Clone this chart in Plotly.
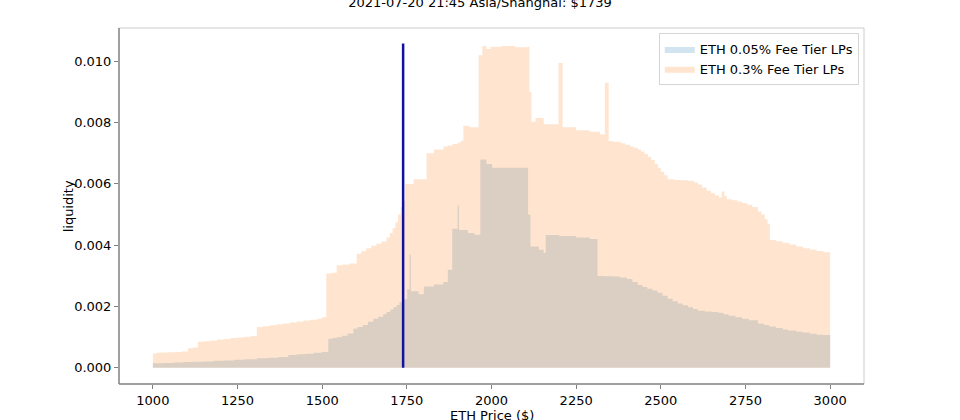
import plotly.graph_objects as go

title_text = "2021-07-20 21:45 Asia/Shanghai: $1739"
current_price = 1739
line_top = 0.01058

# 0.3% fee tier: (price breakpoint, liquidity) step values
prices_03 = [1000, 1012, 1025, 1045, 1065, 1085, 1104, 1118, 1133, 1150, 1170, 1190, 1210, 1230,
             1250, 1270, 1290, 1307, 1325, 1345, 1365, 1385, 1405, 1425, 1445, 1465, 1485, 1499,
             1512, 1528, 1543, 1560, 1580, 1602, 1615, 1630, 1645, 1660, 1675, 1690, 1700, 1708,
             1716, 1724, 1732, 1739, 1745, 1770, 1808, 1830, 1858, 1870, 1885, 1900, 1910, 1917,
             1935, 1962, 1973, 1985, 1997, 2030, 2070, 2106, 2112, 2118, 2130, 2154, 2198, 2210,
             2250, 2290, 2320, 2335, 2346, 2360, 2382, 2395, 2410, 2420, 2432, 2442, 2452, 2462,
             2472, 2482, 2492, 2500, 2510, 2520, 2540, 2560, 2580, 2598, 2610, 2622, 2635, 2648,
             2660, 2672, 2680, 2688, 2695, 2710, 2725, 2740, 2755, 2770, 2787, 2797, 2807, 2815,
             2822, 2840, 2860, 2880, 2900, 2920, 2940, 2960, 2980, 3000]
liq_03 = [0.00047, 0.00049, 0.00050, 0.00051, 0.00052, 0.00053, 0.00064, 0.00066, 0.00085, 0.00087,
          0.00089, 0.00092, 0.00094, 0.00097, 0.00099, 0.00101, 0.00104, 0.00133, 0.00136, 0.00139,
          0.00142, 0.00145, 0.00148, 0.00151, 0.00154, 0.00157, 0.00160, 0.00165, 0.00308, 0.00310,
          0.00335, 0.00337, 0.00340, 0.00372, 0.00380, 0.00390, 0.00398, 0.00405, 0.00412, 0.00425,
          0.00440, 0.00455, 0.00475, 0.00500, 0.00525, 0.00545, 0.00600, 0.00615, 0.00700, 0.00712,
          0.00722, 0.00725, 0.00730, 0.00735, 0.00742, 0.00790, 0.00785, 0.01020, 0.01050, 0.01040,
          0.01048, 0.01050, 0.01046, 0.01048, 0.00900, 0.00803, 0.00815, 0.00795, 0.00995, 0.00785,
          0.00775, 0.00770, 0.00762, 0.00930, 0.00740, 0.00738, 0.00733, 0.00728, 0.00722, 0.00718,
          0.00712, 0.00706, 0.00698, 0.00688, 0.00678, 0.00665, 0.00652, 0.00640, 0.00628, 0.00615,
          0.00613, 0.00612, 0.00610, 0.00605, 0.00598, 0.00588, 0.00578, 0.00570, 0.00562, 0.00556,
          0.00575, 0.00560, 0.00550, 0.00547, 0.00543, 0.00538, 0.00532, 0.00525, 0.00510, 0.00500,
          0.00485, 0.00470, 0.00417, 0.00413, 0.00408, 0.00402, 0.00396, 0.00390, 0.00386, 0.00381,
          0.00377, 0.00373]

# 0.05% fee tier
prices_005 = [1000, 1030, 1060, 1090, 1120, 1150, 1180, 1210, 1240, 1270, 1307, 1340, 1370, 1400,
              1425, 1450, 1475, 1499, 1518, 1530, 1543, 1558, 1575, 1592, 1605, 1620, 1635, 1651,
              1665, 1680, 1690, 1701, 1711, 1720, 1728, 1736, 1751, 1758, 1762, 1785, 1800, 1830,
              1858, 1871, 1884, 1900, 1904, 1930, 1950, 1967, 1985, 2002, 2100, 2108, 2115, 2140,
              2154, 2160, 2200, 2250, 2290, 2313, 2335, 2360, 2380, 2400, 2416, 2432, 2446, 2460,
              2475, 2490, 2505, 2520, 2535, 2550, 2565, 2580, 2595, 2609, 2630, 2650, 2669, 2685,
              2700, 2720, 2740, 2760, 2787, 2805, 2820, 2840, 2860, 2876, 2900, 2920, 2940, 2960,
              2980, 3000]
liq_005 = [0.00015, 0.00016, 0.00017, 0.00019, 0.00020, 0.00021, 0.00023, 0.00024, 0.00026, 0.00028,
           0.00031, 0.00033, 0.00035, 0.00042, 0.00044, 0.00046, 0.00049, 0.00052, 0.00095, 0.00097,
           0.00100, 0.00105, 0.00112, 0.00128, 0.00133, 0.00140, 0.00150, 0.00160, 0.00167, 0.00175,
           0.00182, 0.00190, 0.00198, 0.00205, 0.00214, 0.00224, 0.00256, 0.00370, 0.00250, 0.00240,
           0.00265, 0.00272, 0.00280, 0.00320, 0.00454, 0.00530, 0.00450, 0.00440, 0.00434, 0.00680,
           0.00665, 0.00653, 0.00653, 0.00500, 0.00396, 0.00385, 0.00375, 0.00433, 0.00430, 0.00425,
           0.00420, 0.00300, 0.00299, 0.00298, 0.00295, 0.00290, 0.00280, 0.00270, 0.00264, 0.00258,
           0.00252, 0.00245, 0.00235, 0.00225, 0.00217, 0.00210, 0.00204, 0.00198, 0.00192, 0.00186,
           0.00184, 0.00182, 0.00180, 0.00175, 0.00170, 0.00165, 0.00160, 0.00155, 0.00145, 0.00140,
           0.00135, 0.00130, 0.00125, 0.00122, 0.00118, 0.00115, 0.00111, 0.00108, 0.00107, 0.00106]

x_ticks = [1000, 1250, 1500, 1750, 2000, 2250, 2500, 2750, 3000]
y_ticks = [0.000, 0.002, 0.004, 0.006, 0.008, 0.010]
y_tick_labels = ["0.000", "0.002", "0.004", "0.006", "0.008", "0.010"]

FONT = "DejaVu Sans"

fig = go.Figure()
fig.add_trace(go.Scatter(
    x=prices_005, y=liq_005, mode="lines", line=dict(width=0, shape="hv"),
    fill="tozeroy", fillcolor="rgba(31,119,180,0.2)", name="ETH 0.05% Fee Tier LPs",
    hoverinfo="skip"))
fig.add_trace(go.Scatter(
    x=prices_03, y=liq_03, mode="lines", line=dict(width=0, shape="hv"),
    fill="tozeroy", fillcolor="rgba(255,127,14,0.2)", name="ETH 0.3% Fee Tier LPs",
    hoverinfo="skip"))
fig.add_trace(go.Scatter(
    x=[current_price, current_price], y=[0, line_top], mode="lines",
    line=dict(color="#1212a0", width=2.5), showlegend=False, hoverinfo="skip"))

fig.update_layout(
    width=960, height=420,
    margin=dict(l=119, r=96, t=28, b=31),
    paper_bgcolor="white", plot_bgcolor="white",
    font=dict(family=FONT, size=13, color="black"),
    showlegend=True,
    legend=dict(x=0.993, y=0.986, xanchor="right", yanchor="top",
                bgcolor="rgba(255,255,255,0.8)", bordercolor="#d5d5d5", borderwidth=1,
                font=dict(family=FONT, size=13), itemwidth=30, tracegroupgap=0),
    title=dict(text=title_text, x=0.5, xref="container", xanchor="center",
               y=0.9952, yref="container", yanchor="middle",
               font=dict(family=FONT, size=13, color="black")),
)

fig.update_xaxes(
    range=[900, 3100], tickvals=x_ticks, ticktext=[str(v) for v in x_ticks],
    showgrid=False, zeroline=False, showline=False,
    ticks="outside", ticklen=4, tickwidth=1, tickcolor="#808080",
    tickfont=dict(family=FONT, size=13, color="black"))
fig.update_yaxes(
    range=[-0.000528, 0.011088], tickvals=y_ticks, ticktext=y_tick_labels,
    showgrid=False, zeroline=False, showline=False,
    ticks="outside", ticklen=4, tickwidth=1, tickcolor="#808080",
    tickfont=dict(family=FONT, size=13, color="black"))

# spines
fig.add_shape(type="line", xref="paper", yref="paper", x0=0, x1=1, y0=1, y1=1,
              line=dict(color="#cccccc", width=1))
fig.add_shape(type="line", xref="paper", yref="paper", x0=1, x1=1, y0=0, y1=1,
              line=dict(color="#cccccc", width=1))
fig.add_shape(type="line", xref="paper", yref="paper", x0=0, x1=0, y0=0, y1=1,
              line=dict(color="#808080", width=1.5))
fig.add_shape(type="line", xref="paper", yref="paper", x0=0, x1=1, y0=0, y1=0,
              line=dict(color="#808080", width=1.5))

# axis titles as annotations
fig.add_annotation(text="ETH Price ($)", xref="paper", yref="paper", x=0.5, y=-0.062,
                   xanchor="center", yanchor="top", showarrow=False,
                   font=dict(family=FONT, size=13, color="black"))
fig.add_annotation(text="liquidity", xref="paper", yref="paper", x=-0.068, y=0.5,
                   xanchor="center", yanchor="middle", showarrow=False, textangle=-90,
                   font=dict(family=FONT, size=13, color="black"))

fig.write_html("out.html", config={"displayModeBar": False},
               post_script="document.body.style.margin='0';document.body.style.padding='0';document.body.style.overflow='hidden';")
